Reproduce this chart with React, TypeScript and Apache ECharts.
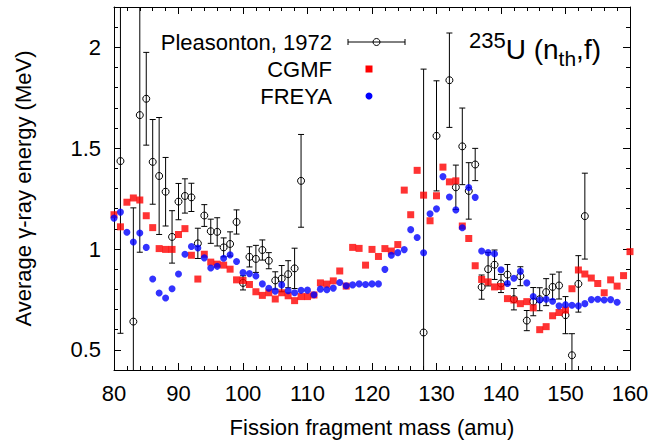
import React, { useEffect, useRef } from "react";
import * as echarts from "echarts";

const FONT = "'Liberation Sans', Arial, Helvetica, sans-serif";

const xTickValues = [80, 90, 100, 110, 120, 130, 140, 150, 160];
const yTickValues = [0.5, 1, 1.5, 2];

const cgmfMass = [
  80, 81, 82, 83, 84, 85, 86, 87, 88, 89, 90, 91, 92, 93, 94, 95, 96, 97, 98, 99,
  100, 101, 102, 103, 104, 105, 106, 107, 108, 109, 110, 111, 112, 113, 114, 115, 116, 117, 118, 119,
  120, 121, 122, 123, 124, 125, 126, 127, 128, 129, 130, 131, 132, 133, 134, 135, 136, 137, 138, 139,
  140, 141, 142, 143, 144, 145, 146, 147, 148, 149, 150, 151, 152, 153, 154, 155, 156, 157, 158, 159, 160,
];
const cgmfEnergy = [
  1.17, 1.11, 1.232, 1.253, 1.243, 1.165, 1.106, 1.002, 0.998, 0.998, 1.072, 1.101, 0.969, 0.851, 0.974, 0.935, 0.925, 0.92, 0.9, 0.847,
  0.844, 0.824, 0.788, 0.77, 0.783, 0.752, 0.783, 0.768, 0.744, 0.764, 0.764, 0.772, 0.832, 0.826, 0.842, 0.891, 0.816, 1.008, 1.003, 0.92,
  0.998, 0.963, 1.002, 0.99, 1.022, 1.292, 1.17, 1.39, 1.267, 1.14, 1.264, 1.406, 1.333, 1.338, 1.114, 1.052, 0.917, 0.849, 0.837, 0.812,
  0.814, 0.754, 0.747, 0.729, 0.739, 0.708, 0.6, 0.615, 0.669, 0.685, 0.697, 0.803, 0.896, 0.876, 0.856, 0.829, 0.783, 0.847, 0.816, 0.868, 0.987,
];

const freyaMass = [
  80, 81, 82, 83, 84, 85, 86, 87, 88, 89, 90, 91, 92, 93, 94, 95, 96, 97, 98, 99,
  100, 101, 102, 103, 104, 105, 106, 107, 108, 109, 110, 111, 112, 113, 114, 115, 116, 117, 118, 119,
  120, 121, 122, 123, 124, 125, 126, 127, 128, 129, 130, 131, 132, 133, 134, 135, 136, 137, 138, 139,
  140, 141, 142, 143, 144, 145, 146, 147, 148, 149, 150, 151, 152, 153, 154, 155, 156, 157, 158,
];
const freyaEnergy = [
  1.153, 1.183, 1.083, 1.035, 1.079, 1.008, 0.851, 0.782, 0.757, 0.803, 0.876, 0.974, 1.012, 1.005, 0.956, 0.906, 0.914, 0.954, 0.971, 0.938,
  0.883, 0.878, 0.866, 0.827, 0.805, 0.791, 0.822, 0.793, 0.783, 0.795, 0.796, 0.773, 0.801, 0.798, 0.806, 0.834, 0.818, 0.822, 0.827, 0.824,
  0.827, 0.827, 0.899, 0.969, 0.982, 0.997, 1.096, 1.057, 0.981, 1.175, 1.199, 1.359, 1.258, 1.194, 1.105, 1.305, 1.256, 0.99, 0.982, 0.976,
  0.897, 0.829, 0.855, 0.889, 0.832, 0.764, 0.747, 0.751, 0.741, 0.718, 0.724, 0.721, 0.718, 0.729, 0.749, 0.751, 0.747, 0.749, 0.736,
];

const pleasontonMass = [
  81, 83, 84, 85, 86, 87, 88, 89, 90, 91, 92, 93, 94, 95, 96, 97, 98, 99, 100, 101,
  102, 103, 104, 105, 106, 107, 108, 109, 128, 130, 132, 133, 134, 135, 136, 137, 138, 139, 140, 141,
  142, 143, 144, 145, 146, 147, 148, 149, 150, 151, 152, 153,
];
const pleasontonEnergy = [
  1.436, 0.64, 1.664, 1.745, 1.432, 1.362, 1.284, 1.06, 1.235, 1.263, 1.256, 1.028, 1.166, 1.088, 1.085, 1.008, 1.025, 1.134, 0.832, 0.961,
  0.951, 0.995, 0.942, 0.844, 0.853, 0.875, 0.904, 1.338, 0.586, 1.561, 1.837, 1.306, 1.509, 1.288, 1.419, 0.811, 0.9, 0.922, 0.829, 0.873,
  0.751, 0.865, 0.645, 0.739, 0.751, 0.786, 0.812, 0.819, 0.672, 0.473, 0.827, 1.163,
];
const pleasontonError = [
  0.854, 0.564, 0.68, 0.23, 0.21, 0.29, 0.17, 0.13, 0.09, 0.085, 0.07, 0.075, 0.054, 0.06, 0.07, 0.047, 0.06, 0.06, 0.035, 0.05,
  0.067, 0.05, 0.04, 0.043, 0.065, 0.067, 0.1, 0.23, 1.306, 0.273, 0.234, 0.11, 0.19, 0.14, 0.08, 0.06, 0.083, 0.073, 0.045, 0.05,
  0.053, 0.047, 0.05, 0.07, 0.057, 0.067, 0.063, 0.067, 0.092, 0.107, 0.14, 0.213,
];

const Y_MIN = 0.4;
const Y_MAX = 2.2;
const X_MIN = 80;
const X_MAX = 160;

export default function App() {
  const ref = useRef<HTMLDivElement>(null);

  useEffect(() => {
    if (!ref.current) return;
    const chart = echarts.init(ref.current, null, { renderer: "svg" });

    const cgmf = cgmfMass.map((m, i) => [m, cgmfEnergy[i]]);
    const freya = freyaMass.map((m, i) => [m, freyaEnergy[i]]);
    const pleas = pleasontonMass.map((m, i) => [m, pleasontonEnergy[i], pleasontonError[i]]);

    const black = "#000";
    const tickStyle = { color: black, width: 1 };
    const labelStyle = { color: black, fontSize: 22, fontFamily: FONT };

    const xBase = {
      type: "value",
      min: X_MIN,
      max: X_MAX,
      interval: 10,
      splitLine: { show: false },
      minorSplitLine: { show: false },
      axisLine: { show: true, onZero: false, lineStyle: tickStyle },
      axisTick: { show: true, inside: true, length: 7, lineStyle: tickStyle },
      minorTick: { show: true, splitNumber: 5, length: 4, lineStyle: tickStyle },
    };
    const yMinor = {
      type: "value",
      min: Y_MIN,
      max: Y_MAX,
      interval: 0.1,
      splitLine: { show: false },
      axisLine: { show: true, onZero: false, lineStyle: tickStyle },
      axisTick: { show: true, inside: true, length: 4, lineStyle: tickStyle },
      axisLabel: { show: false },
    };
    const yMajor = {
      type: "value",
      min: Y_MIN,
      max: Y_MAX,
      splitLine: { show: false },
      axisLine: { show: false, onZero: false },
      axisTick: { show: true, inside: true, length: 7, lineStyle: tickStyle, customValues: yTickValues },
    };

    chart.setOption({
      animation: false,
      backgroundColor: "#ffffff",
      title: {
        text: "{sup|235}{main|U (n}{sub|th}{main|,f)}",
        left: 469,
        top: 29,
        padding: 0,
        textStyle: {
          fontWeight: "normal",
          rich: {
            sup: { fontSize: 22, fontWeight: "normal", fontFamily: FONT, color: black, verticalAlign: "top", lineHeight: 12 },
            main: { fontSize: 28, fontWeight: "normal", fontFamily: FONT, color: black, lineHeight: 40 },
            sub: { fontSize: 21, fontWeight: "normal", fontFamily: FONT, color: black, verticalAlign: "bottom", lineHeight: 24 },
          },
        },
      },
      grid: { left: 114, right: 38, top: 7, bottom: 68, containLabel: false },
      xAxis: [
        {
          ...xBase,
          position: "bottom",
          axisLabel: { ...labelStyle, margin: 12, showMinLabel: true, showMaxLabel: true, customValues: xTickValues },
          name: "Fission fragment mass (amu)",
          nameLocation: "middle",
          nameGap: 46,
          nameTextStyle: { color: black, fontSize: 22, fontFamily: FONT },
        },
        { ...xBase, position: "top", axisLabel: { show: false } },
      ],
      yAxis: [
        {
          ...yMinor,
          position: "left",
          name: "Average γ-ray energy (MeV)",
          nameLocation: "middle",
          nameRotate: 90,
          nameGap: 80,
          nameTextStyle: { color: black, fontSize: 22, fontFamily: FONT },
        },
        {
          ...yMajor,
          position: "left",
          axisLabel: { ...labelStyle, margin: 13, customValues: yTickValues },
        },
        { ...yMinor, position: "right" },
        { ...yMajor, position: "right", axisLabel: { show: false } },
      ],
      graphic: [
        {
          type: "text",
          x: 332,
          y: 42,
          style: { text: "Pleasonton, 1972", fill: black, font: `22px ${FONT}`, textAlign: "right", textVerticalAlign: "middle" },
        },
        { type: "line", shape: { x1: 348, y1: 42, x2: 405, y2: 42 }, style: { stroke: black, lineWidth: 1 } },
        { type: "line", shape: { x1: 348, y1: 39, x2: 348, y2: 45 }, style: { stroke: black, lineWidth: 1 } },
        { type: "line", shape: { x1: 405, y1: 39, x2: 405, y2: 45 }, style: { stroke: black, lineWidth: 1 } },
        { type: "circle", shape: { cx: 376.5, cy: 42, r: 3.5 }, style: { stroke: black, fill: "none", lineWidth: 1 } },
        {
          type: "text",
          x: 332,
          y: 69,
          style: { text: "CGMF", fill: black, font: `22px ${FONT}`, textAlign: "right", textVerticalAlign: "middle" },
        },
        { type: "rect", shape: { x: 365.5, y: 65.5, width: 7, height: 7 }, style: { fill: "#ff0000" } },
        {
          type: "text",
          x: 332,
          y: 96,
          style: { text: "FREYA", fill: black, font: `22px ${FONT}`, textAlign: "right", textVerticalAlign: "middle" },
        },
        { type: "circle", shape: { cx: 369, cy: 96, r: 3.5 }, style: { fill: "#0000ff" } },
      ],
      series: [
        {
          name: "Pleasonton, 1972",
          type: "custom",
          xAxisIndex: 0,
          yAxisIndex: 0,
          data: pleas,
          encode: { x: 0, y: 1 },
          renderItem: (params: any, api: any) => {
            const x = api.value(0);
            const y = api.value(1);
            const e = api.value(2);
            const lo = y - e;
            const hi = y + e;
            const pLo = api.coord([x, Math.max(lo, Y_MIN)]);
            const pHi = api.coord([x, Math.min(hi, Y_MAX)]);
            const p = api.coord([x, y]);
            const st = { stroke: black, lineWidth: 1, fill: "none" };
            const children: any[] = [
              { type: "line", shape: { x1: pLo[0], y1: pLo[1], x2: pHi[0], y2: pHi[1] }, style: st },
            ];
            if (lo >= Y_MIN) {
              children.push({ type: "line", shape: { x1: pLo[0] - 3, y1: pLo[1], x2: pLo[0] + 3, y2: pLo[1] }, style: st });
            }
            if (hi <= Y_MAX) {
              children.push({ type: "line", shape: { x1: pHi[0] - 3, y1: pHi[1], x2: pHi[0] + 3, y2: pHi[1] }, style: st });
            }
            children.push({ type: "circle", shape: { cx: p[0], cy: p[1], r: 3.5 }, style: st });
            return { type: "group", children };
          },
        },
        {
          name: "CGMF",
          type: "scatter",
          data: cgmf,
          symbol: "rect",
          symbolSize: 7,
          itemStyle: { color: "#ff0000" },
        },
        {
          name: "FREYA",
          type: "scatter",
          data: freya,
          symbol: "circle",
          symbolSize: 7,
          itemStyle: { color: "#0000ff" },
        },
      ],
    });

    return () => chart.dispose();
  }, []);

  return (
    <div
      ref={ref}
      style={{ position: "fixed", left: 0, top: 0, width: 668, height: 443, background: "#fff" }}
    />
  );
}
